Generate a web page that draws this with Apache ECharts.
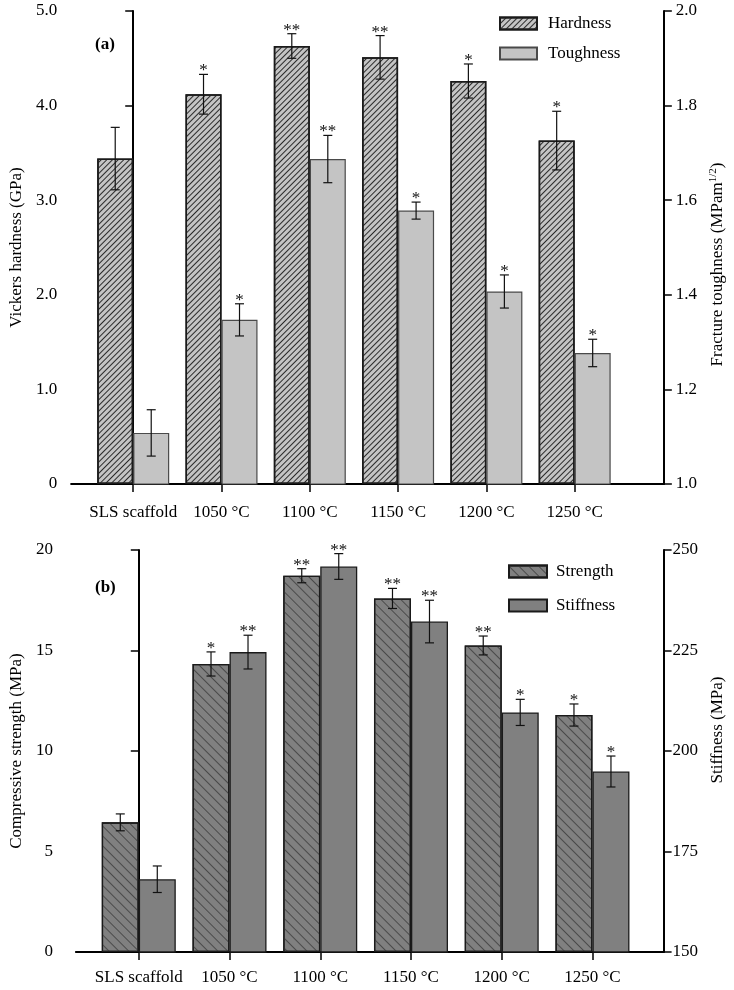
<!DOCTYPE html>
<html>
<head>
<meta charset="utf-8">
<script src="https://cdn.jsdelivr.net/npm/echarts@6/dist/echarts.min.js"></script>
<style>
html,body{margin:0;padding:0;background:#fff;}
#chart{width:734px;height:990px;}
</style>
</head>
<body>
<div id="chart"></div>
<script>
// ---- data ----
const categories = ['SLS scaffold', '1050 °C', '1100 °C', '1150 °C', '1200 °C', '1250 °C'];
const hardness = [3.44, 4.12, 4.63, 4.51, 4.26, 3.63];
const hardnessErr = [0.33, 0.21, 0.13, 0.23, 0.18, 0.31];
const hardnessSig = ['', '*', '**', '**', '*', '*'];
const toughness = [1.108, 1.347, 1.687, 1.578, 1.407, 1.277];
const toughnessErr = [0.049, 0.034, 0.05, 0.018, 0.035, 0.029];
const toughnessSig = ['', '*', '**', '*', '*', '*'];
const strength = [6.45, 14.33, 18.72, 17.59, 15.25, 11.79];
const strengthErr = [0.42, 0.6, 0.35, 0.5, 0.47, 0.55];
const strengthSig = ['', '*', '**', '**', '**', '*'];
const stiffness = [168.1, 224.6, 245.9, 232.2, 209.6, 194.9];
const stiffnessErr = [3.3, 4.2, 3.2, 5.3, 3.25, 3.85];
const stiffnessSig = ['', '**', '**', '**', '*', '*'];

// ---- styling ----
const FONT = 'Liberation Serif';
const FS = 17;
const BW_TOP = 36;
const BW_BOT = 37;
const catIdx = categories.map((c, i) => i);

function pairs(vals) { return vals.map((v, i) => [i, v]); }
function errData(vals, errs) { return vals.map((v, i) => [i, v, errs[i]]); }

function errRender(dx, sigs) {
  return function (params, api) {
    const i = api.value(0), v = api.value(1), e = api.value(2);
    const t = api.coord([i, v + e]);
    const b = api.coord([i, v - e]);
    const x = t[0] + dx;
    const cap = 4.5;
    const st = { stroke: '#111', lineWidth: 1.2 };
    const children = [
      { type: 'line', shape: { x1: x, y1: t[1], x2: x, y2: b[1] }, style: st },
      { type: 'line', shape: { x1: x - cap, y1: t[1], x2: x + cap, y2: t[1] }, style: st },
      { type: 'line', shape: { x1: x - cap, y1: b[1], x2: x + cap, y2: b[1] }, style: st }
    ];
    const s = sigs[params.dataIndex];
    if (s) {
      children.push({
        type: 'text',
        style: { text: s, x: x, y: t[1] + 5, align: 'center', verticalAlign: 'bottom',
                 font: '17px "' + FONT + '"', fill: '#111' }
      });
    }
    return { type: 'group', children: children };
  };
}

const axisLineStyle = { show: true, lineStyle: { color: '#000', width: 2 } };
const tickLine = { color: '#000', width: 1.5 };
const labelStyle = { color: '#000', fontFamily: FONT, fontSize: FS };

function xAxisDef(grid, min, max, margin) {
  return {
    type: 'value', gridIndex: grid, min: min, max: max,
    axisLine: axisLineStyle,
    axisTick: { show: true, length: 8, customValues: catIdx, lineStyle: tickLine },
    axisLabel: Object.assign({ customValues: catIdx, margin: margin,
      formatter: v => categories[Math.round(v)] }, labelStyle),
    splitLine: { show: false }
  };
}

function yAxisDef(grid, pos, min, max, interval, fmt, name, nameGap, margin, namePad, rich) {
  return {
    type: 'value', gridIndex: grid, position: pos, min: min, max: max, interval: interval,
    axisLine: axisLineStyle,
    axisTick: { show: true, length: 8, lineStyle: tickLine },
    axisLabel: Object.assign({ formatter: fmt, margin: margin }, labelStyle),
    splitLine: { show: false },
    name: name, nameLocation: 'middle', nameGap: nameGap, nameRotate: 90,
    nameTextStyle: { color: '#000', fontFamily: FONT, fontSize: FS, padding: namePad || 0, rich: rich || {} }
  };
}

const hatchTop = { symbol: 'rect', dashArrayX: [1, 0], dashArrayY: [1, 2.2], rotation: -Math.PI / 4, color: '#2a2a2a', symbolSize: 1 };
const hatchBot = { symbol: 'rect', dashArrayX: [1, 0], dashArrayY: [1, 5.6], rotation: Math.PI / 4, color: '#4a4a4a', symbolSize: 1 };

const option = {
  animation: false,
  backgroundColor: '#fff',
  textStyle: { fontFamily: FONT },
  title: [
    { text: '(a)', left: 90, top: 31, textStyle: { fontFamily: FONT, fontSize: 17, fontWeight: 'bold', color: '#000' } },
    { text: '(b)', left: 90, top: 574, textStyle: { fontFamily: FONT, fontSize: 17, fontWeight: 'bold', color: '#000' } }
  ],
  legend: [
    { data: ['Hardness', 'Toughness'], orient: 'vertical', left: 494, top: 10, itemWidth: 37, itemHeight: 12,
      icon: 'rect', itemGap: 13, textStyle: { fontFamily: FONT, fontSize: FS, color: '#000', padding: [0, 0, 0, 6] } },
    { data: ['Strength', 'Stiffness'], orient: 'vertical', left: 503, top: 558, itemWidth: 38, itemHeight: 12,
      icon: 'rect', itemGap: 17, textStyle: { fontFamily: FONT, fontSize: FS, color: '#000', padding: [0, 0, 0, 4] } }
  ],
  grid: [
    { left: 63, right: 69, top: 11, bottom: 506 },
    { left: 68, right: 68, top: 550, bottom: 38 }
  ],
  xAxis: [
    xAxisDef(0, -0.703, 6.01, 20),
    xAxisDef(1, -0.693, 5.784, 17)
  ],
  yAxis: [
    yAxisDef(0, 'left', 0, 5, 1, v => v === 0 ? '0' : v.toFixed(1), 'Vickers hardness (GPa)', 40, 14),
    yAxisDef(0, 'right', 1, 2, 0.2, v => v.toFixed(1), 'Fracture toughness (MPam{sup|1/2})', 44, 12, [0, 34, 0, 0],
      { sup: { fontFamily: FONT, fontSize: 11, verticalAlign: 'top', padding: [0, 0, 8, 0], color: '#000' } }),
    yAxisDef(1, 'left', 0, 20, 5, v => String(v), 'Compressive strength (MPa)', 44, 23),
    yAxisDef(1, 'right', 150, 250, 25, v => String(v), 'Stiffness (MPa)', 42, 9, [0, 0, 0, 42])
  ],
  series: [
    { name: 'Hardness', type: 'bar', xAxisIndex: 0, yAxisIndex: 0, data: pairs(hardness),
      barWidth: BW_TOP, barGap: '0%',
      itemStyle: { color: '#c4c4c4', borderColor: '#1a1a1a', borderWidth: 1.5, decal: hatchTop } },
    { name: 'Toughness', type: 'bar', xAxisIndex: 0, yAxisIndex: 1, data: pairs(toughness),
      barWidth: BW_TOP, barGap: '0%',
      itemStyle: { color: '#c4c4c4', borderColor: '#4a4a4a', borderWidth: 1.2 } },
    { type: 'custom', xAxisIndex: 0, yAxisIndex: 0, data: errData(hardness, hardnessErr),
      renderItem: errRender(-BW_TOP / 2, hardnessSig), z: 5, silent: true },
    { type: 'custom', xAxisIndex: 0, yAxisIndex: 1, data: errData(toughness, toughnessErr),
      renderItem: errRender(BW_TOP / 2, toughnessSig), z: 5, silent: true },
    { name: 'Strength', type: 'bar', xAxisIndex: 1, yAxisIndex: 2, data: pairs(strength),
      barWidth: BW_BOT, barGap: '0%',
      itemStyle: { color: '#808080', borderColor: '#1a1a1a', borderWidth: 1.3, decal: hatchBot } },
    { name: 'Stiffness', type: 'bar', xAxisIndex: 1, yAxisIndex: 3, data: pairs(stiffness),
      barWidth: BW_BOT, barGap: '0%',
      itemStyle: { color: '#808080', borderColor: '#1a1a1a', borderWidth: 1.3 } },
    { type: 'custom', xAxisIndex: 1, yAxisIndex: 2, data: errData(strength, strengthErr),
      renderItem: errRender(-BW_BOT / 2, strengthSig), z: 5, silent: true },
    { type: 'custom', xAxisIndex: 1, yAxisIndex: 3, data: errData(stiffness, stiffnessErr),
      renderItem: errRender(BW_BOT / 2, stiffnessSig), z: 5, silent: true }
  ]
};

const chart = echarts.init(document.getElementById('chart'), null, { renderer: 'canvas' });
chart.setOption(option);
</script>
</body>
</html>
